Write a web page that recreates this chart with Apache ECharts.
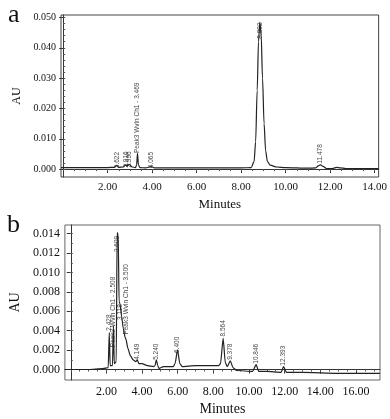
<!DOCTYPE html>
<html><head><meta charset="utf-8">
<script src="https://cdn.jsdelivr.net/npm/echarts@6/dist/echarts.min.js"></script>
<style>html,body{margin:0;padding:0;background:#fff}#c{width:390px;height:419px}</style>
</head><body><div id="c"></div>
<script>
// ---------- Panel a data (minutes, AU) ----------
const traceA = [
  [-0.1,0.0005],[1.0,0.0005],[2.0,0.0005],[2.3,0.0006],[2.41,0.0012],[2.5,0.0006],[2.7,0.0007],
  [2.81,0.0014],[2.88,0.0011],[2.96,0.0016],[3.1,0.0007],[3.25,0.0005],[3.3,0.0014],[3.34,0.0052],
  [3.38,0.0014],[3.45,0.0005],[3.7,0.0004],[3.97,0.0008],[4.1,0.0004],[5.0,0.0004],[6.0,0.0004],
  [7.0,0.0004],[8.0,0.0004],[8.45,0.0005],[8.58,0.0025],[8.65,0.009],[8.72,0.026],[8.78,0.042],
  [8.84,0.0485],[8.9,0.044],[8.96,0.030],[9.03,0.015],[9.1,0.006],[9.18,0.0025],[9.3,0.0013],
  [9.6,0.0007],[10.0,0.0005],[11.0,0.0003],[11.35,0.0004],[11.47,0.0011],[11.57,0.0014],[11.68,0.0009],
  [11.85,0.0002],[12.1,0.0002],[12.3,0.0006],[12.45,0.0004],[12.7,0.0002],[14.18,0.0002]
];
// peak labels: [time, label anchor AU, text]
const labelsA = [
  [2.41,0.0003,'2.622'],[2.81,0.0005,'2.916'],[2.96,0.0005,'2.996'],
  [3.34,0.0053,'Peak3 Wvln Ch1 - 3.469'],[3.97,0.0003,'4.065'],
  [8.84,0.043,'8.802'],[11.57,0.0018,'11.478']
];
const yTicksA = [0,0.01,0.02,0.03,0.04,0.05];
const xTicksA = [2,4,6,8,10,12,14];

// ---------- Panel b data ----------
const traceB = [
  [-0.33,0.0000],[1.0,0.0000],[1.8,0.0001],[2.1,0.0002],[2.16,0.0038],[2.21,0.0004],[2.34,0.0004],
  [2.39,0.0045],[2.44,0.0006],[2.55,0.0008],[2.6,0.0141],[2.66,0.0139],[2.71,0.0070],[2.76,0.0068],
  [2.85,0.0055],[2.95,0.0042],[3.05,0.0033],[3.1,0.0031],[3.2,0.0022],[3.35,0.0014],[3.5,0.0010],
  [3.65,0.0008],[3.73,0.0010],[3.82,0.0006],[4.0,0.0006],[4.3,0.0004],[4.65,0.0003],[4.73,0.0004],
  [4.8,0.0010],[4.88,0.0004],[4.95,0.0001],[5.2,0.0003],[5.75,0.0003],[5.85,0.0006],[5.99,0.0020],
  [6.12,0.0006],[6.25,0.0003],[7.0,0.0004],[8.3,0.0004],[8.4,0.0006],[8.55,0.0032],[8.67,0.0007],
  [8.78,0.0003],[8.95,0.0009],[9.1,0.0002],[9.3,-0.0001],[10.2,-0.0002],[10.4,0.0005],[10.55,-0.0002],
  [11.0,-0.0002],[11.8,-0.0003],[11.94,0.0003],[12.1,-0.0003],[13.0,-0.0003],[15.0,-0.0004],[17.35,-0.0004]
];
const labelsB = [
  [2.16,0.0040,'2.428'],[2.39,0.0023,'Peak2 Wvln Ch1 - 2.508'],[2.61,0.0121,'2.609'],
  [2.76,0.0051,'3.118'],[3.1,0.0036,'Peak3 Wvln Ch1 - 3.500'],[3.73,0.0010,'4.149'],
  [4.8,0.0010,'5.240'],[5.99,0.0017,'6.400'],[8.55,0.0034,'8.564'],[8.95,0.0010,'9.378'],
  [10.4,0.0006,'10.846'],[11.94,0.0004,'12.393']
];
const yTicksB = [0,0.002,0.004,0.006,0.008,0.010,0.012,0.014];
const xTicksB = [2,4,6,8,10,12,14,16];

const serif = '"Liberation Serif","DejaVu Serif",serif';
const ink = '#111';
function range(a,b,s){const r=[];for(let v=a;v<=b+1e-9;v+=s)r.push(+v.toFixed(4));return r;}

function xAxes(gi, min, max, majors, fs, margin){
  return [{
    gridIndex:gi, type:'value', min, max, position:'bottom',
    name:'Minutes', nameLocation:'middle', nameGap: fs+10,
    nameTextStyle:{fontFamily:serif, fontSize:fs+2, color:ink},
    axisLine:{lineStyle:{color:'#333',width:1}},
    axisTick:{customValues:majors, length:4, lineStyle:{color:'#333'}},
    axisLabel:{customValues:majors, fontFamily:serif, fontSize:fs, color:ink, margin, formatter:v=>v.toFixed(2)},
    splitLine:{show:false}
  },{
    gridIndex:gi, type:'value', min, max, position:'bottom',
    axisLine:{show:false},
    axisTick:{customValues:range(Math.ceil(min*2)/2, max, 0.5), length:2, lineStyle:{color:'#555'}},
    axisLabel:{show:false}, splitLine:{show:false}
  }];
}
function yAxes(gi, min, max, majors, minorStep, fs, gap){
  return [{
    gridIndex:gi, type:'value', min, max,
    name:'AU', nameLocation:'middle', nameGap:gap, nameRotate:90,
    nameTextStyle:{fontFamily:serif, fontSize:fs+2, color:ink},
    axisLine:{show:true, lineStyle:{color:'#333',width:1}},
    axisTick:{show:true, customValues:majors, length:4, lineStyle:{color:'#333'}},
    axisLabel:{customValues:majors, fontFamily:serif, fontSize:fs, color:ink, margin:5, formatter:v=>v.toFixed(3)},
    splitLine:{show:false}
  },{
    gridIndex:gi, type:'value', min, max,
    axisLine:{show:false},
    axisTick:{show:true, customValues:range(0, max, minorStep), length:2, lineStyle:{color:'#555'}},
    axisLabel:{show:false}, splitLine:{show:false}
  }];
}

const labelStyle = {show:true, position:[0,0], rotate:90, align:'left', verticalAlign:'middle',
  fontFamily:'"Liberation Sans",Arial,sans-serif', fontSize:6.5, color:'#111',
  formatter:p=>p.data[2]};

const option = {
  animation:false,
  backgroundColor:'#fff',
  grid:[
    {left:61, top:15, width:319, height:162, show:true, borderColor:'#444', borderWidth:1},
    {left:62, top:225, width:318, height:155, show:true, borderColor:'#666', borderWidth:1}
  ],
  xAxis:[...xAxes(0,-0.1,14.18,xTicksA,11,5), ...xAxes(1,-0.33,17.35,xTicksB,12,6)],
  yAxis:[...yAxes(0,-0.0026,0.0508,yTicksA,0.002,10,36), ...yAxes(1,-0.00108,0.01489,yTicksB,0.001,12,42)],
  graphic:[
    {type:'text', left:8, top:2, style:{text:'a', font:'26px '+serif, fill:ink}},
    {type:'text', left:7, top:212, style:{text:'b', font:'26px '+serif, fill:ink}}
  ],
  series:[
    {type:'line', xAxisIndex:0, yAxisIndex:0, data:traceA, showSymbol:false, smooth:0.3, smoothMonotone:'x',
     lineStyle:{color:'#222', width:1.2}},
    {type:'scatter', xAxisIndex:0, yAxisIndex:0, data:labelsA, symbolSize:0, label:labelStyle, silent:true},
    {type:'line', xAxisIndex:2, yAxisIndex:2, data:traceB, showSymbol:false, smooth:0.2, smoothMonotone:'x',
     lineStyle:{color:'#222', width:1.2}},
    {type:'scatter', xAxisIndex:2, yAxisIndex:2, data:labelsB, symbolSize:0, label:labelStyle, silent:true}
  ]
};
echarts.init(document.getElementById('c')).setOption(option);
</script></body></html>
